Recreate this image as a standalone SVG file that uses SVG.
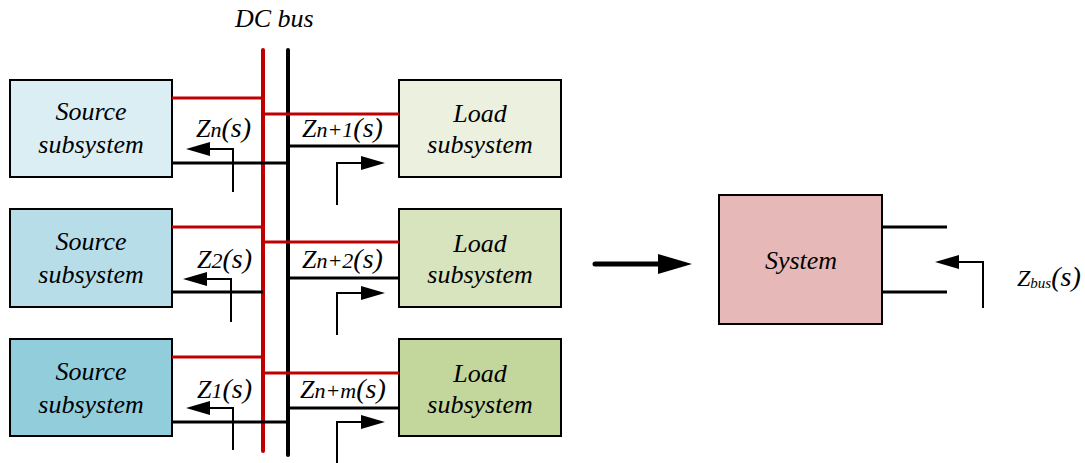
<svg xmlns="http://www.w3.org/2000/svg" width="1085" height="463" viewBox="0 0 1085 463">
  <defs>
    <marker id="head" markerUnits="userSpaceOnUse" markerWidth="24" markerHeight="16" viewBox="0 0 24 16" refX="14" refY="8" orient="auto">
      <path d="M0,1 L24,8 L0,15 Z" fill="#000"/>
    </marker>
    <marker id="bighead" markerUnits="userSpaceOnUse" markerWidth="34" markerHeight="22" viewBox="0 0 34 22" refX="20" refY="11" orient="auto">
      <path d="M0,1 L34,11 L0,21 Z" fill="#000"/>
    </marker>
  </defs>

  <text x="235" y="27" font-family="Liberation Serif" font-style="italic" font-size="26">DC bus</text>

  <!-- source subsystems -->
  <g id="source1">
    <rect x="10" y="80" width="162" height="97" fill="#dbeef4" stroke="#000" stroke-width="2"/>
    <text x="91" y="120" font-family="Liberation Serif" font-style="italic" font-size="26" text-anchor="middle">Source</text>
    <text x="91" y="153" font-family="Liberation Serif" font-style="italic" font-size="26" text-anchor="middle">subsystem</text>
  </g>
  <g id="source2">
    <rect x="10" y="209" width="162" height="98" fill="#b7dde8" stroke="#000" stroke-width="2"/>
    <text x="91" y="250" font-family="Liberation Serif" font-style="italic" font-size="26" text-anchor="middle">Source</text>
    <text x="91" y="283" font-family="Liberation Serif" font-style="italic" font-size="26" text-anchor="middle">subsystem</text>
  </g>
  <g id="source3">
    <rect x="10" y="339" width="162" height="97" fill="#92cddc" stroke="#000" stroke-width="2"/>
    <text x="91" y="380" font-family="Liberation Serif" font-style="italic" font-size="26" text-anchor="middle">Source</text>
    <text x="91" y="413" font-family="Liberation Serif" font-style="italic" font-size="26" text-anchor="middle">subsystem</text>
  </g>

  <!-- load subsystems -->
  <g id="load1">
    <rect x="399" y="80" width="162" height="97" fill="#ebf1de" stroke="#000" stroke-width="2"/>
    <text x="480" y="122" font-family="Liberation Serif" font-style="italic" font-size="26" text-anchor="middle">Load</text>
    <text x="480" y="153" font-family="Liberation Serif" font-style="italic" font-size="26" text-anchor="middle">subsystem</text>
  </g>
  <g id="load2">
    <rect x="399" y="209" width="162" height="98" fill="#d7e4bd" stroke="#000" stroke-width="2"/>
    <text x="480" y="252" font-family="Liberation Serif" font-style="italic" font-size="26" text-anchor="middle">Load</text>
    <text x="480" y="283" font-family="Liberation Serif" font-style="italic" font-size="26" text-anchor="middle">subsystem</text>
  </g>
  <g id="load3">
    <rect x="399" y="339" width="162" height="97" fill="#c3d69b" stroke="#000" stroke-width="2"/>
    <text x="480" y="382" font-family="Liberation Serif" font-style="italic" font-size="26" text-anchor="middle">Load</text>
    <text x="480" y="413" font-family="Liberation Serif" font-style="italic" font-size="26" text-anchor="middle">subsystem</text>
  </g>

  <!-- equivalent system -->
  <g id="system">
    <rect x="719" y="195" width="163" height="129" fill="#e6b9b8" stroke="#000" stroke-width="2"/>
    <text x="801" y="269" font-family="Liberation Serif" font-style="italic" font-size="26" text-anchor="middle">System</text>
  </g>

  <g id="connectors" fill="none">
    <!-- DC bus rails -->
    <g stroke-width="4" stroke-linecap="round">
      <line x1="263" y1="50" x2="263" y2="451" stroke="#c00000"/>
      <line x1="288" y1="50" x2="288" y2="455" stroke="#000"/>
    </g>

    <!-- feeder lines -->
    <g stroke="#c00000" stroke-width="3">
      <line x1="172" y1="98" x2="263" y2="98"/>
      <line x1="263" y1="114" x2="399" y2="114"/>
      <line x1="172" y1="227" x2="263" y2="227"/>
      <line x1="263" y1="242" x2="399" y2="242"/>
      <line x1="172" y1="357" x2="263" y2="357"/>
      <line x1="263" y1="373" x2="399" y2="373"/>
    </g>
    <g stroke="#000" stroke-width="3">
      <line x1="172" y1="163" x2="288" y2="163"/>
      <line x1="288" y1="146" x2="399" y2="146"/>
      <line x1="172" y1="292" x2="263" y2="292"/>
      <line x1="288" y1="278" x2="399" y2="278"/>
      <line x1="172" y1="422" x2="288" y2="422"/>
      <line x1="288" y1="408" x2="399" y2="408"/>
      <!-- system terminals -->
      <line x1="882" y1="227" x2="947" y2="227"/>
      <line x1="882" y1="292" x2="947" y2="292"/>
    </g>

    <!-- impedance probes -->
    <g stroke="#000" stroke-width="2" marker-end="url(#head)">
      <path d="M233,192 V149 H196"/>
      <path d="M337,205 V163 H375"/>
      <path d="M231,322 V279 H193"/>
      <path d="M337,335 V293 H375"/>
      <path d="M233,450 V408 H196"/>
      <path d="M337,463 V422 H375"/>
      <path d="M983,308 V262 H945"/>
    </g>

    <!-- equivalence arrow -->
    <line x1="595" y1="264" x2="678" y2="264" stroke="#000" stroke-width="5" stroke-linecap="round" marker-end="url(#bighead)"/>
  </g>

  <!-- impedance labels -->
  <g id="impedances">
    <text x="196" y="137" font-family="Liberation Serif" font-style="italic" font-size="26">Z<tspan font-size="22">n</tspan><tspan font-size="28">(s)</tspan></text>
    <text x="302" y="137" font-family="Liberation Serif" font-style="italic" font-size="26">Z<tspan font-size="22">n+1</tspan><tspan font-size="28">(s)</tspan></text>
    <text x="197" y="268" font-family="Liberation Serif" font-style="italic" font-size="26">Z<tspan font-size="22">2</tspan><tspan font-size="28">(s)</tspan></text>
    <text x="302" y="268" font-family="Liberation Serif" font-style="italic" font-size="26">Z<tspan font-size="22">n+2</tspan><tspan font-size="28">(s)</tspan></text>
    <text x="197" y="398" font-family="Liberation Serif" font-style="italic" font-size="26">Z<tspan font-size="22">1</tspan><tspan font-size="28">(s)</tspan></text>
    <text x="300" y="398" font-family="Liberation Serif" font-style="italic" font-size="26">Z<tspan font-size="22">n+m</tspan><tspan font-size="28">(s)</tspan></text>
    <text x="1017" y="286" font-family="Liberation Serif" font-style="italic" font-size="24">Z<tspan font-size="15" dy="2">bus</tspan><tspan font-size="28" dy="-2">(s)</tspan></text>
  </g>
</svg>
